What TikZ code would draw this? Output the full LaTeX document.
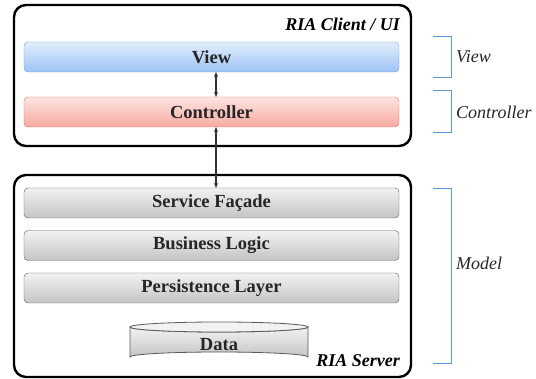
\documentclass[tikz,border=0pt]{standalone}
\usepackage{fontspec}
\setmainfont{Liberation Serif}
\newfontfamily\tnr{Liberation Serif}
\usetikzlibrary{arrows.meta}
\definecolor{vtop}{HTML}{E2EEFD}
\definecolor{vbot}{HTML}{9DC3F4}
\definecolor{vbor}{HTML}{6A9BD8}
\definecolor{ctop}{HTML}{FDE4E0}
\definecolor{cbot}{HTML}{F6AAA1}
\definecolor{cbor}{HTML}{D8705F}
\definecolor{gtop}{HTML}{F2F2F2}
\definecolor{gbot}{HTML}{C4C4C4}
\definecolor{gbor}{HTML}{5A5A5A}
\definecolor{brk}{HTML}{5B9BD5}
\begin{document}
\begin{tikzpicture}[x=1pt,y=-1pt,
  tier/.style={draw=black,line width=2.4pt,rounded corners=12pt,minimum width=397pt,inner sep=0pt},
  layer/.style={rounded corners=4pt,minimum width=375pt,minimum height=30pt,inner sep=0pt,
    font=\tnr\fontsize{18.5}{18.5}\selectfont\bfseries,text=black!85},
  viewbox/.style={layer,draw=vbor,top color=vtop,bottom color=vbot},
  ctrlbox/.style={layer,draw=cbor,top color=ctop,bottom color=cbot},
  graybox/.style={layer,draw=gbor,top color=gtop,bottom color=gbot},
  tiertitle/.style={font=\tnr\fontsize{18}{18}\selectfont\bfseries\itshape,anchor=east,inner sep=0pt},
  side/.style={font=\tnr\fontsize{18}{18}\selectfont\itshape,anchor=west,inner sep=0pt,text=black!85},
  brace/.style={draw=brk,line width=0.8pt},
  conn/.style={{Stealth[length=5pt,width=4pt]}-{Stealth[length=5pt,width=4pt]},line width=1.2pt,draw=black!80}]
\useasboundingbox (0,0) rectangle (536,379);
% tiers
\node[tier,minimum height=141pt] (client) at (212.5,75.5) {};
\node[tier,minimum height=202pt] (server) at (212.5,276) {};
\node[tiertitle] (clientt) at (400,24) {RIA Client / UI};
\node[tiertitle] (servert) at (400,361) {RIA Server};
% layers
\node[viewbox] (view) at (211.5,57) {View};
\node[ctrlbox] (ctrl) at (211.5,112) {Controller};
\node[graybox] (svc) at (211.5,203) {Service Façade};
\node[graybox] (biz) at (211.5,245.5) {Business Logic};
\node[graybox] (pers) at (211.5,288) {Persistence Layer};
% data cylinder
\draw[draw=gbor,line width=0.8pt,top color=gtop,bottom color=gbot]
  (130,327) -- (130,357) arc[start angle=180,end angle=360,x radius=89,y radius=5] -- (308,327)
  arc[start angle=0,end angle=180,x radius=89,y radius=5] -- cycle;
\draw[draw=gbor,line width=0.8pt,fill=gtop] (219,327) ellipse[x radius=89,y radius=5];
\node[font=\tnr\fontsize{18.5}{18.5}\selectfont\bfseries,text=black!85] (data) at (219,345) {Data};
% connectors
\coordinate (a1) at (216,72);
\coordinate (a2) at (216,97);
\coordinate (b1) at (216,127);
\coordinate (b2) at (216,188);
\draw[conn] (a1) -- (a2);
\draw[conn] (b1) -- (b2);
% brackets
\draw[brace] (433,36) -- (451,36) -- (451,77) -- (433,77);
\draw[brace] (433,90) -- (451,90) -- (451,132) -- (433,132);
\draw[brace] (433,188) -- (451,188) -- (451,363) -- (433,363);
\node[side] (lv) at (456,57) {View};
\node[side] (lc) at (456,112) {Controller};
\node[side] (lm) at (456,263) {Model};
\end{tikzpicture}
\end{document}
